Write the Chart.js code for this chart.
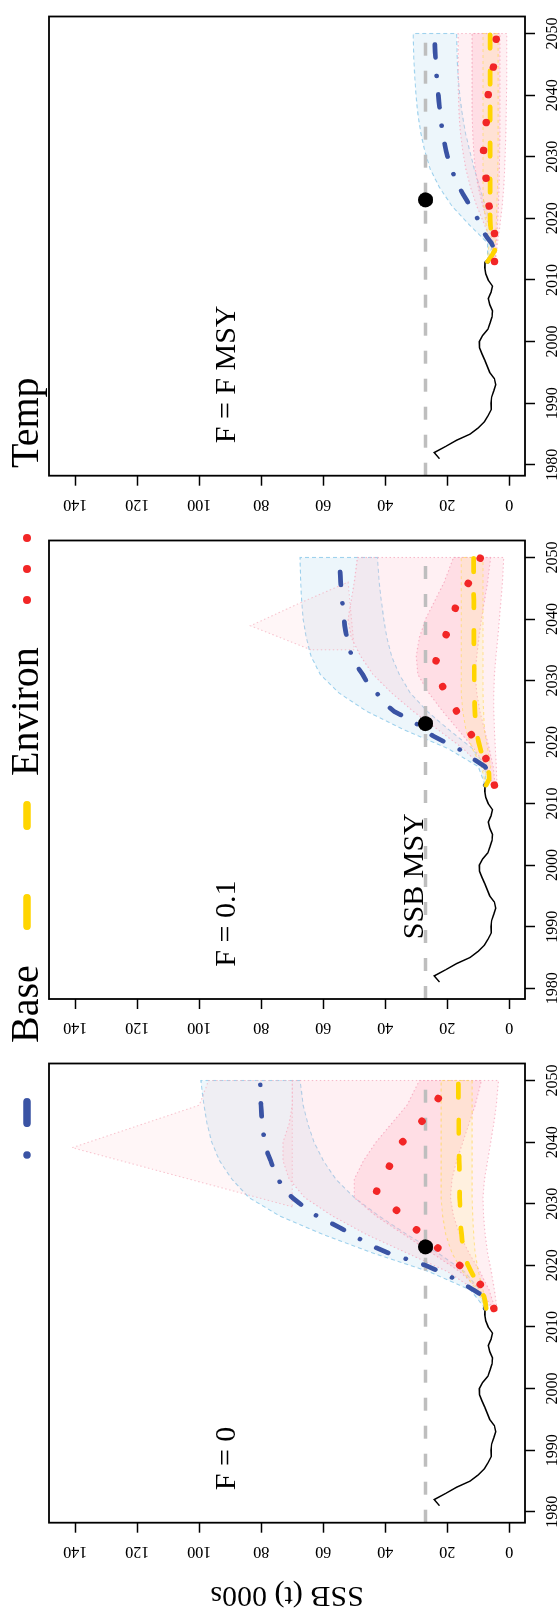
<!DOCTYPE html>
<html>
<head>
<meta charset="utf-8">
<title>SSB projections by fishing mortality</title>
<script src="https://cdn.jsdelivr.net/npm/chart.js@4.4.1/dist/chart.umd.min.js"></script>
<style>
  html, body { margin: 0; padding: 0; background: #ffffff; width: 560px; height: 1611px; overflow: hidden; }
  /* the figure is laid out landscape and turned a quarter turn anticlockwise */
  #figure { position: absolute; left: 0; top: 0; width: 1611px; height: 560px;
            transform-origin: 0 0; transform: translate(0px, 1611px) rotate(-90deg); }
  #figure canvas { position: absolute; top: 0; }
</style>
</head>
<body>
<div id="figure">
  <canvas id="panel0" width="555" height="560" style="left:0px"></canvas>
  <canvas id="panel1" width="555" height="560" style="left:523px"></canvas>
  <canvas id="panel2" width="555" height="560" style="left:1047px"></canvas>
  <canvas id="legend" width="1611" height="560" style="left:0px"></canvas>
</div>
<script>
// ---------- axes ----------
const yearTicks = [1980, 1990, 2000, 2010, 2020, 2030, 2040, 2050];
const ssbTicks = [0, 20, 40, 60, 80, 100, 120, 140];
const panelLabels = ['F = 0', 'F = 0.1', 'F = F MSY'];
const legendLabels = ['Base', 'Environ', 'Temp'];
const ssbMSY = 27;
const refYear = 2023;

// ---------- assessment period ----------
const histYears = [1981, 1982, 1983, 1984, 1985, 1986, 1987, 1988, 1989, 1990, 1991, 1992, 1993, 1994, 1995, 1996, 1997,
  1998, 1999, 2000, 2001, 2002, 2003, 2004, 2005, 2006, 2007, 2008, 2009, 2010, 2011, 2012, 2013];
const histSSB = [22.5, 24.2, 20.5, 17.0, 12.6, 10.0, 8.0, 6.8, 5.8, 5.9, 5.7, 5.0, 4.4, 4.8, 6.3, 7.1, 7.9,
  8.8, 9.6, 9.7, 8.6, 6.9, 6.2, 5.6, 5.4, 6.3, 6.8, 5.9, 5.4, 6.8, 7.6, 7.9, 7.8];

// ---------- projection period (medians) ----------
const projYears = [2013, 2014, 2015, 2016, 2017, 2018, 2019, 2020, 2021, 2022, 2023, 2024, 2025, 2026, 2027, 2028, 2029,
  2030, 2031, 2032, 2033, 2034, 2035, 2036, 2037, 2038, 2039, 2040, 2041, 2042, 2043, 2044, 2045, 2046, 2047, 2048, 2049, 2050];

const baseF0 = [7.8, 7.2, 8.4, 11.5, 14.8, 18.3, 22.5, 27.0, 33.0, 39.0, 43.5, 47.2, 50.8, 54.2, 58.0, 62.0, 65.2,
  67.5, 70.0, 72.0, 73.5, 74.5, 75.5, 76.3, 77.0, 77.8, 78.4, 78.8, 79.2, 79.5, 79.7, 79.9, 80.0, 80.1, 80.2, 80.3, 80.3, 80.4];
const environF0 = [7.5, 7.7, 8.2, 9.2, 10.3, 11.3, 12.3, 13.3, 14.0, 14.5, 14.9, 15.2, 15.4, 15.6, 15.7, 15.8, 15.9,
  15.9, 16.0, 16.0, 16.0, 16.1, 16.1, 16.1, 16.2, 16.2, 16.2, 16.2, 16.3, 16.3, 16.3, 16.3, 16.3, 16.4, 16.4, 16.4, 16.4, 16.4];
const tempF0 = [5.0, 5.5, 6.5, 7.8, 9.5, 11.5, 13.5, 16.0, 18.5, 21.0, 23.5, 26.0, 28.0, 30.5, 32.5, 34.5, 36.5,
  39.0, 41.5, 42.8, 42.0, 40.8, 39.8, 38.8, 37.8, 36.6, 35.6, 34.5, 32.5, 30.5, 28.8, 27.2, 25.8, 24.3, 23.0, 21.8, 20.8, 20.0];

const baseF01 = [7.8, 7.0, 7.0, 7.8, 10.8, 13.7, 16.6, 20.8, 24.6, 27.5, 30.0, 33.5, 37.2, 39.5, 41.3, 42.8, 44.5,
  46.2, 47.3, 48.7, 49.8, 50.8, 51.5, 52.0, 52.4, 52.8, 53.1, 53.3, 53.5, 53.7, 53.9, 54.1, 54.3, 54.4, 54.5, 54.6, 54.7, 54.7];
const environF01 = [7.5, 6.5, 6.6, 7.3, 8.1, 8.8, 9.4, 9.9, 10.3, 10.6, 10.8, 11.0, 11.1, 11.2, 11.2, 11.2, 11.2,
  11.3, 11.3, 11.3, 11.3, 11.3, 11.3, 11.4, 11.4, 11.4, 11.4, 11.4, 11.4, 11.4, 11.4, 11.5, 11.5, 11.5, 11.5, 11.5, 11.5, 11.5];
const tempF01 = [4.8, 5.2, 5.8, 6.5, 7.2, 8.3, 9.6, 10.9, 12.0, 13.3, 14.6, 15.9, 17.0, 18.2, 19.4, 20.5, 21.5,
  22.5, 23.5, 24.3, 23.8, 23.0, 22.2, 21.4, 20.7, 20.0, 19.3, 18.7, 18.0, 17.2, 16.3, 15.3, 14.2, 13.0, 11.8, 10.8, 10.0, 9.3];

const baseFmsy = [7.0, 5.5, 4.8, 5.8, 7.3, 8.6, 9.5, 10.3, 11.3, 12.6, 13.8, 15.0, 16.1, 17.1, 17.9, 18.6, 19.3,
  19.9, 20.4, 20.8, 21.2, 21.5, 21.8, 22.0, 22.3, 22.5, 22.7, 22.9, 23.0, 23.2, 23.4, 23.5, 23.6, 23.8, 23.9, 24.0, 24.0, 24.1];
const environFmsy = [7.0, 5.6, 4.5, 5.0, 5.5, 5.9, 6.1, 6.2, 6.2, 6.2, 6.2, 6.2, 6.2, 6.2, 6.2, 6.2, 6.2,
  6.2, 6.2, 6.2, 6.2, 6.2, 6.2, 6.2, 6.2, 6.2, 6.2, 6.2, 6.2, 6.2, 6.2, 6.2, 6.2, 6.2, 6.2, 6.2, 6.2, 6.2];
const tempFmsy = [4.8, 4.8, 4.7, 4.6, 4.6, 4.9, 5.3, 5.7, 6.2, 6.5, 6.8, 7.0, 7.2, 7.4, 7.6, 7.9, 8.2,
  8.4, 8.3, 8.1, 7.8, 7.6, 7.5, 7.4, 7.3, 7.2, 7.0, 6.8, 6.5, 6.1, 5.7, 5.3, 5.0, 4.7, 4.5, 4.3, 4.2, 4.1];

// ---------- projection intervals ----------
const bandYears = [2013, 2016, 2019, 2022, 2025, 2028, 2031, 2034, 2037, 2040, 2043, 2046, 2050];

const baseF0Hi = [7.8, 12.5, 26, 44, 60, 74, 84, 89.5, 93.5, 96, 97.5, 98.5, 99.5];
const baseF0Lo = [7.8, 9.5, 14.5, 23, 33, 42, 50, 56, 60, 63, 65, 66.5, 67.5];
const tempF0Hi = [5.5, 11, 20, 33, 46, 57, 66, 71, 73, 73, 71, 70, 70];
const tempF0Lo = [4.0, 4.8, 5.8, 7, 7.8, 8.3, 8.5, 8, 7, 6, 5, 4.2, 3.5];
const tempF0MidHi = [5.2, 9.5, 16, 25, 34, 43, 50, 50, 47, 43, 38, 33, 29];
const tempF0MidLo = [4.6, 6.5, 9.5, 13, 16, 18, 19, 18.5, 17, 15, 13, 11, 9];
const environF0Hi = [7.6, 10.5, 15, 18.5, 20.5, 21.5, 22, 22, 22, 22, 22, 22, 22];
const environF0Lo = [7.4, 8.5, 10, 11, 11.5, 11.8, 12, 12, 12, 12, 12, 12, 12];
const tempF0PeakYears = [2029.5, 2039.1, 2046, 2050, 2050];
const tempF0PeakSSB = [70, 141, 100, 97, 70];

const baseF01Hi = [7.8, 10, 20, 34, 46, 55, 61, 64, 65.5, 66.5, 67, 67.3, 67.5];
const baseF01Lo = [7.8, 7.5, 12, 19.5, 26.5, 32, 35.5, 38, 39.5, 40.5, 41.3, 42, 42.5];
const tempF01Hi = [5.5, 9, 15, 23, 31, 38, 44, 48, 51, 52, 51, 50, 49];
const tempF01Lo = [4.0, 4.2, 4.5, 4.8, 5, 5, 4.8, 4.3, 3.7, 3.2, 2.7, 2.2, 1.8];
const tempF01MidHi = [5.2, 7.5, 11.5, 16.5, 21.5, 26, 29.5, 30, 29, 27, 24, 21, 18];
const tempF01MidLo = [4.6, 5.2, 6.5, 8, 9.5, 10.5, 11, 10.5, 9.8, 9, 8, 7, 6];
const environF01Hi = [7.6, 9, 12, 14, 15, 15.5, 15.5, 15.5, 15.5, 15.5, 15.5, 15.5, 15.5];
const environF01Lo = [7.4, 6, 7, 8, 8.3, 8.5, 8.5, 8.5, 8.5, 8.5, 8.5, 8.5, 8.5];
const tempF01PeakYears = [2035, 2038.9, 2042.5, 2046, 2035];
const tempF01PeakSSB = [64, 83.5, 68, 52, 50];

const baseFmsyHi = [7.0, 7.0, 13, 18.5, 22.5, 25.5, 27.3, 28.6, 29.5, 30.1, 30.5, 30.8, 31];
const baseFmsyLo = [7.0, 5.2, 6.0, 7.7, 9.5, 11.3, 12.8, 14.2, 15.2, 16, 16.5, 16.8, 17];
const tempFmsyHi = [5.0, 5.8, 8, 10.5, 12.5, 14, 15, 15.8, 16.2, 16.4, 16.5, 16.5, 16.5];
const tempFmsyLo = [4.5, 3.8, 3, 2.3, 1.8, 1.5, 1.3, 1.1, 1.0, 0.9, 0.8, 0.8, 0.8];
const tempFmsyMidHi = [4.9, 5.5, 6.8, 8.5, 10, 11, 11.5, 11.8, 12, 12, 12, 12, 12];
const tempFmsyMidLo = [4.6, 4.2, 3.8, 3.5, 3.3, 3.2, 3.1, 3, 3, 3, 3, 3, 3];
const environFmsyHi = [7.1, 6.5, 7.5, 8.2, 8.5, 8.5, 8.5, 8.5, 8.5, 8.5, 8.5, 8.5, 8.5];
const environFmsyLo = [6.9, 4.5, 4.2, 4.0, 3.8, 3.7, 3.6, 3.6, 3.6, 3.6, 3.6, 3.6, 3.6];

// ---------- styling ----------
const SERIF = "'Liberation Serif', 'Times New Roman', serif";
const BLUE = '#3A53A4';
const GOLD = '#FFD500';
const RED = '#F22626';
const X_MIN = 1978.24, X_MAX = 2052.76;
const Y_MIN = -5.065, Y_MAX = 148.48;

Chart.defaults.font.family = SERIF;
Chart.defaults.color = '#000';

function pts(xs, ys) { return xs.map((x, i) => ({ x: x, y: ys[i] })); }
function ring(xs, hi, lo) {
  const up = pts(xs, hi);
  const dn = pts(xs, lo).reverse();
  return up.concat(dn, [up[0]]);
}
function closed(xs, ys) { const p = pts(xs, ys); return p.concat([p[0]]); }

function area(data, fill, line, dash, order) {
  return { type: 'line', data: data, fill: 'shape', backgroundColor: fill, borderColor: line,
           borderWidth: 1.1, borderDash: dash, pointRadius: 0, tension: 0, order: order };
}

const panels = [
  { base: baseF0, env: environF0, temp: tempF0,
    baseHi: baseF0Hi, baseLo: baseF0Lo, tempHi: tempF0Hi, tempLo: tempF0Lo,
    tempMidHi: tempF0MidHi, tempMidLo: tempF0MidLo, envHi: environF0Hi, envLo: environF0Lo,
    peakX: tempF0PeakYears, peakY: tempF0PeakSSB, axisW: 88.3, title: true, msyText: false },
  { base: baseF01, env: environF01, temp: tempF01,
    baseHi: baseF01Hi, baseLo: baseF01Lo, tempHi: tempF01Hi, tempLo: tempF01Lo,
    tempMidHi: tempF01MidHi, tempMidLo: tempF01MidLo, envHi: environF01Hi, envLo: environF01Lo,
    peakX: tempF01PeakYears, peakY: tempF01PeakSSB, axisW: 89, title: false, msyText: true },
  { base: baseFmsy, env: environFmsy, temp: tempFmsy,
    baseHi: baseFmsyHi, baseLo: baseFmsyLo, tempHi: tempFmsyHi, tempLo: tempFmsyLo,
    tempMidHi: tempFmsyMidHi, tempMidLo: tempFmsyMidLo, envHi: environFmsyHi, envLo: environFmsyLo,
    peakX: null, peakY: null, axisW: 88.3, title: false, msyText: false }
];

// box, rotated SSB tick labels, axis title and panel annotations
const panelDecor = {
  id: 'panelDecor',
  afterDraw(chart, args, o) {
    const ctx = chart.ctx, a = chart.chartArea, xs = chart.scales.x, ys = chart.scales.y;
    ctx.save();
    ctx.strokeStyle = '#000';
    ctx.lineWidth = 1.8;
    ctx.strokeRect(a.left, a.top, a.right - a.left, a.bottom - a.top);
    ctx.fillStyle = '#000';
    ctx.font = '16px ' + SERIF;
    ctx.textAlign = 'center';
    ctx.textBaseline = 'middle';
    ssbTicks.forEach(function (v) {
      ctx.save();
      ctx.translate(a.left - 28.3, ys.getPixelForValue(v));
      ctx.rotate(-Math.PI / 2);
      ctx.fillText(String(v), 0, 0);
      ctx.restore();
    });
    if (o.title) {
      ctx.save();
      ctx.font = '30px ' + SERIF;
      ctx.translate(a.left - 72, (a.top + a.bottom) / 2);
      ctx.rotate(-Math.PI / 2);
      ctx.fillText('SSB (t) 000s', 0, 0);
      ctx.restore();
    }
    ctx.font = '30px ' + SERIF;
    ctx.textAlign = 'left';
    ctx.fillText(o.label, xs.getPixelForValue(1983.5), ys.getPixelForValue(91));
    if (o.msyText) {
      ctx.textAlign = 'center';
      ctx.textBaseline = 'alphabetic';
      ctx.fillText('SSB MSY', xs.getPixelForValue(1998.2), ys.getPixelForValue(ssbMSY) - 3);
    }
    ctx.restore();
  }
};

panels.forEach(function (p, i) {
  const datasets = [
    area(ring(bandYears, p.baseHi, p.baseLo), 'rgba(173,216,235,0.22)', 'rgba(150,205,235,0.9)', [4, 3], 10),
    area(ring(bandYears, p.tempHi, p.tempLo), 'rgba(255,185,200,0.22)', 'rgba(245,170,190,0.8)', [1.5, 2.5], 9),
    area(ring(bandYears, p.tempMidHi, p.tempMidLo), 'rgba(255,175,195,0.28)', 'rgba(245,160,185,0.8)', [1.5, 2.5], 7),
    area(ring(bandYears, p.envHi, p.envLo), 'rgba(255,236,150,0.22)', 'rgba(255,215,80,0.6)', [3, 3], 6),
    { data: pts(histYears, histSSB), borderColor: '#000', borderWidth: 1.5, pointRadius: 0, tension: 0,
      fill: false, order: 5 },
    { data: [{ x: X_MIN, y: ssbMSY }, { x: 2050, y: ssbMSY }], borderColor: '#BEBEBE', borderWidth: 3.5,
      borderDash: [13, 15], borderCapStyle: 'butt', pointRadius: 0, fill: false, order: 4 },
    { data: pts(projYears, p.base), borderColor: BLUE, borderWidth: 4.7, borderCapStyle: 'round',
      borderJoinStyle: 'round', borderDash: [0.01, 18.5, 13, 18.5], pointRadius: 0, tension: 0, fill: false, order: 3 },
    { data: pts(projYears, p.env), borderColor: GOLD, borderWidth: 4.7, borderCapStyle: 'round',
      borderJoinStyle: 'round', borderDash: [13.5, 22.5], pointRadius: 0, tension: 0, fill: false, order: 2 },
    { data: pts(projYears, p.temp), borderColor: RED, borderWidth: 7.5, borderCapStyle: 'round',
      borderJoinStyle: 'round', borderDash: [0.01, 28], pointRadius: 0, tension: 0, fill: false, order: 1 },
    { data: [{ x: refYear, y: ssbMSY }], showLine: false, pointRadius: 7.5, pointBackgroundColor: '#000',
      pointBorderWidth: 0, order: 0 }
  ];
  if (p.peakX) {
    datasets.push(area(closed(p.peakX, p.peakY), 'rgba(255,190,200,0.14)', 'rgba(245,175,190,0.7)', [1.5, 2.5], 8));
  }
  const axisW = p.axisW;
  new Chart(document.getElementById('panel' + i), {
    type: 'line',
    data: { datasets: datasets },
    options: {
      responsive: false,
      animation: false,
      events: [],
      layout: { padding: { top: 49, left: 0, bottom: 0, right: 555 - axisW - 465.7 } },
      plugins: {
        legend: { display: false },
        tooltip: { enabled: false },
        panelDecor: { label: panelLabels[i], title: p.title, msyText: p.msyText }
      },
      scales: {
        x: {
          type: 'linear', min: X_MIN, max: X_MAX,
          afterBuildTicks: function (s) { s.ticks = yearTicks.map(function (v) { return { value: v }; }); },
          afterFit: function (s) { s.height = 35; },
          border: { display: false },
          grid: { drawOnChartArea: false, drawTicks: true, tickLength: 10, tickColor: '#000', tickWidth: 1.5 },
          ticks: { autoSkip: false, maxRotation: 0, minRotation: 0, padding: 8, color: '#000',
                   font: { family: SERIF, size: 16 }, callback: function (v) { return String(v); } }
        },
        y: {
          type: 'linear', min: Y_MIN, max: Y_MAX,
          afterBuildTicks: function (s) { s.ticks = ssbTicks.map(function (v) { return { value: v }; }); },
          afterFit: function (s) { s.width = axisW; },
          border: { display: false },
          grid: { drawOnChartArea: false, drawTicks: true, tickLength: 10, tickColor: '#000', tickWidth: 1.5 },
          ticks: { display: false }
        }
      }
    },
    plugins: [panelDecor]
  });
});

// legend strip along the top of the landscape figure
(function drawLegend() {
  const c = document.getElementById('legend').getContext('2d');
  const yMid = 27;
  c.lineCap = 'round';
  c.lineWidth = 7.5;
  c.strokeStyle = BLUE;
  c.setLineDash([0.01, 31.7, 21.5, 31.7]);
  c.beginPath(); c.moveTo(456, yMid); c.lineTo(509.3, yMid); c.stroke();
  c.setLineDash([]);
  c.strokeStyle = GOLD;
  c.beginPath(); c.moveTo(684.75, yMid); c.lineTo(713.25, yMid); c.moveTo(784.75, yMid); c.lineTo(806.25, yMid); c.stroke();
  c.fillStyle = RED;
  [1011, 1042, 1073].forEach(function (x) { c.beginPath(); c.arc(x, yMid, 4, 0, 2 * Math.PI); c.fill(); });
  c.fillStyle = '#000';
  c.font = '40px ' + SERIF;
  c.textAlign = 'left';
  c.textBaseline = 'alphabetic';
  c.fillText(legendLabels[0], 568, 38.3);
  c.fillText(legendLabels[1], 835, 38.3);
  c.fillText(legendLabels[2], 1143, 38.3);
})();
</script>
</body>
</html>
